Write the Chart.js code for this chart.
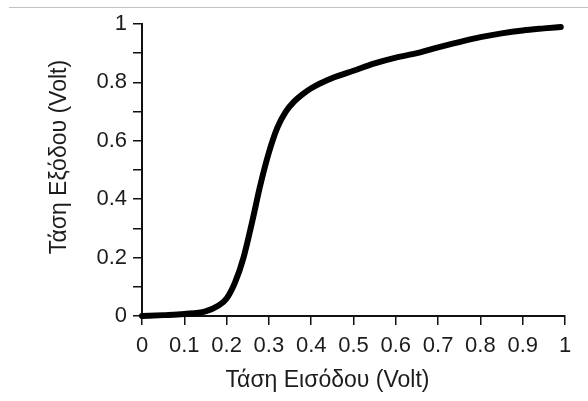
<!DOCTYPE html>
<html>
<head>
<meta charset="utf-8">
<script src="https://cdn.jsdelivr.net/npm/chart.js@4.4.1/dist/chart.umd.min.js"></script>
<style>
  html, body { margin: 0; padding: 0; background: #fff; }
  #wrap { position: relative; width: 588px; height: 401px; }
  #rule { position: absolute; top: 7px; left: 9px; right: 0; height: 1px; background: #c2c2c2; }
</style>
</head>
<body>
<div id="wrap">
  <div id="rule"></div>
  <canvas id="curve" width="588" height="401"></canvas>
</div>
<script>
// input / output voltage of the transfer curve
const vIn = [0, 0.05, 0.1, 0.15, 0.18, 0.2, 0.22, 0.24, 0.26, 0.28, 0.3, 0.32, 0.34, 0.36, 0.38, 0.4,
  0.45, 0.5, 0.55, 0.6, 0.65, 0.7, 0.75, 0.8, 0.85, 0.9, 0.95, 0.99];
const vOut = [0, 0.003, 0.007, 0.016, 0.035, 0.06, 0.115, 0.2, 0.32, 0.45, 0.56, 0.645, 0.7, 0.735, 0.76, 0.78,
  0.815, 0.84, 0.865, 0.885, 0.9, 0.92, 0.938, 0.955, 0.968, 0.978, 0.985, 0.99];

const xTickLabels = ['0', '0.1', '0.2', '0.3', '0.4', '0.5', '0.6', '0.7', '0.8', '0.9', '1'];
const yTickLabels = ['0', '', '0.2', '', '0.4', '', '0.6', '', '0.8', '', '1'];

const xTitle = 'Τάση Εισόδου (Volt)';
const yTitle = 'Τάση Εξόδου (Volt)';

const fontFamily = "'Liberation Sans', Arial, sans-serif";
const ink = '#1c1c1c';

// axis titles sit a little off the centre of the plot, so draw them by hand
const axisTitles = {
  id: 'axisTitles',
  afterDraw(chart) {
    const { ctx, chartArea: a } = chart;
    ctx.save();
    ctx.fillStyle = ink;
    ctx.font = '23px ' + fontFamily;
    ctx.textAlign = 'center';
    ctx.textBaseline = 'middle';
    ctx.fillText(xTitle, (a.left + a.right) / 2 - 26, 381);
    ctx.translate(60, (a.top + a.bottom) / 2 - 13);
    ctx.rotate(-Math.PI / 2);
    ctx.fillText(yTitle, 0, 0);
    ctx.restore();
  }
};

const axisGrid = {
  display: true,
  drawOnChartArea: false,
  drawTicks: true,
  tickLength: 9,
  color: '#111',
  lineWidth: 1.5
};

new Chart(document.getElementById('curve'), {
  type: 'line',
  data: {
    datasets: [{
      data: vIn.map((x, i) => ({ x: x, y: vOut[i] })),
      borderColor: '#000',
      borderWidth: 6,
      pointRadius: 0,
      cubicInterpolationMode: 'monotone',
      borderCapStyle: 'round',
      clip: false
    }]
  },
  options: {
    responsive: false,
    animation: false,
    layout: { padding: { top: 24, right: 23, left: 0, bottom: 0 } },
    plugins: { legend: { display: false }, tooltip: { enabled: false } },
    scales: {
      x: {
        type: 'linear',
        min: 0,
        max: 1,
        afterFit: s => { s.height = 85; },
        grid: axisGrid,
        border: { display: true, color: '#111', width: 2 },
        ticks: {
          stepSize: 0.1,
          maxRotation: 0,
          autoSkip: false,
          padding: 8,
          color: ink,
          font: { family: fontFamily, size: 22 },
          callback: (v, i) => xTickLabels[i]
        }
      },
      y: {
        min: 0,
        max: 1,
        afterFit: s => { s.width = 142; },
        grid: axisGrid,
        border: { display: true, color: '#111', width: 2 },
        ticks: {
          stepSize: 0.1,
          autoSkip: false,
          padding: 6,
          color: ink,
          font: { family: fontFamily, size: 22 },
          callback: (v, i) => yTickLabels[i]
        }
      }
    }
  },
  plugins: [axisTitles]
});
</script>
</body>
</html>
